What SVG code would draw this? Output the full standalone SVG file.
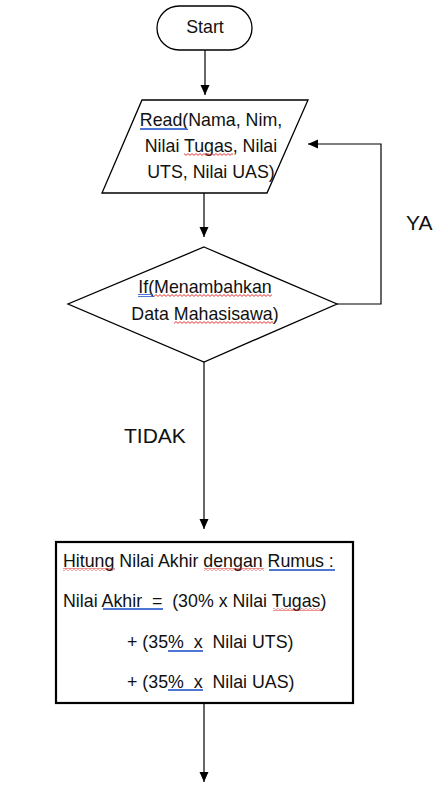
<svg xmlns="http://www.w3.org/2000/svg" width="444" height="789" viewBox="0 0 444 789">
<defs>
<marker id="arr" markerWidth="10" markerHeight="10" viewBox="0 0 10 10" refX="10" refY="5" orient="auto" markerUnits="userSpaceOnUse">
<path d="M0,0.5 L10,5 L0,9.5 Z" fill="#000"/>
</marker>
<pattern id="wave" width="4" height="3" patternUnits="userSpaceOnUse">
<path d="M0,0.6 L2,2.4 L4,0.6" fill="none" stroke="#e02020" stroke-width="0.9"/>
</pattern>
<pattern id="dbl" width="4" height="3" patternUnits="userSpaceOnUse">
<path d="M0,0.5 H4 M0,2.5 H4" fill="none" stroke="#3a66d0" stroke-width="0.9"/>
</pattern>
<style>
.shape{fill:#fff;stroke:#000;stroke-width:1.3}
.box{fill:#fff;stroke:#000;stroke-width:2.2}
.t{font-family:"Liberation Sans",Arial,sans-serif;font-size:17.8px;fill:#111;white-space:pre}
.c{text-anchor:middle}
.big{font-size:21px}
.con{fill:none;stroke:#000;stroke-width:1.2}
.sp{fill:url(#wave)}
.gr{fill:url(#dbl)}
</style>
</defs>
<rect width="444" height="789" fill="#fff"/>
<g id="connectors">
<line class="con" x1="205" y1="50" x2="205" y2="95" marker-end="url(#arr)"/>
<line class="con" x1="204" y1="193" x2="204" y2="237" marker-end="url(#arr)"/>
<polyline class="con" points="337,304 381,304 381,144 308,144" marker-end="url(#arr)"/>
<line class="con" x1="204" y1="362" x2="204" y2="529" marker-end="url(#arr)"/>
<line class="con" x1="204" y1="703" x2="204" y2="782" marker-end="url(#arr)"/>
</g>
<g id="start">
<rect class="shape" x="157" y="6" width="95" height="44" rx="22" ry="22"/>
<text class="t c" x="205" y="33">Start</text>
</g>
<g id="read">
<polygon class="shape" points="142,100 308,100 267,193 102,193"/>
<text class="t c" x="211" y="126">Read(Nama, Nim,</text>
<text class="t c" x="211" y="152">Nilai Tugas, Nilai</text>
<text class="t c" x="211" y="178">UTS, Nilai UAS)</text>
<rect class="gr" x="140" y="127" width="47" height="3"/>
<rect class="sp" x="184" y="153" width="49" height="3"/>
</g>
<g id="decision">
<polygon class="shape" points="204,247 337,304 204,362 68,304"/>
<text class="t c" x="205" y="293">If(Menambahkan</text>
<text class="t c" x="205" y="320">Data Mahasisawa)</text>
<rect class="gr" x="138" y="294" width="15" height="3"/>
<rect class="sp" x="154" y="294" width="118" height="3"/>
<rect class="sp" x="174" y="321" width="99" height="3"/>
</g>
<g id="labels">
<text class="t big" x="406" y="230">YA</text>
<text class="t big" x="124" y="443">TIDAK</text>
</g>
<g id="hitung">
<rect class="box" x="56" y="542" width="297" height="161"/>
<text class="t" x="63" y="567">Hitung Nilai Akhir dengan Rumus :</text>
<text class="t" x="63" y="607">Nilai Akhir  =  (30% x Nilai Tugas)</text>
<text class="t" x="127" y="648">+ (35%  x  Nilai UTS)</text>
<text class="t" x="127" y="688">+ (35%  x  Nilai UAS)</text>
<rect class="sp" x="63" y="568" width="52" height="3"/>
<rect class="sp" x="204" y="568" width="60" height="3"/>
<rect class="gr" x="269" y="568" width="66" height="3"/>
<rect class="gr" x="103" y="608" width="60" height="3"/>
<rect class="sp" x="273" y="608" width="50" height="3"/>
<rect class="gr" x="168" y="649" width="35" height="3"/>
<rect class="gr" x="168" y="689" width="35" height="3"/>
</g>
</svg>
